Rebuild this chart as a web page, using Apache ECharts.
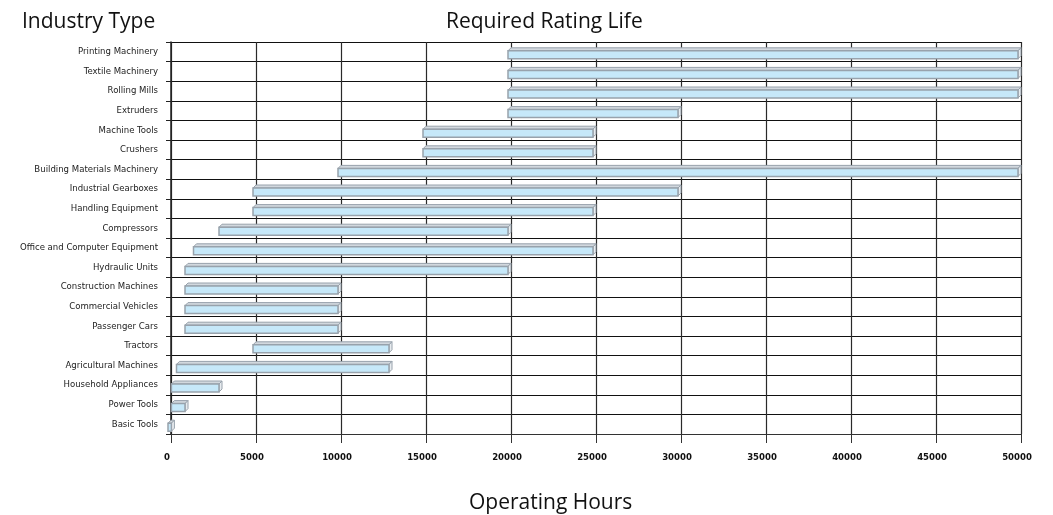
<!DOCTYPE html>
<html>
<head>
<meta charset="utf-8">
<script src="https://cdn.jsdelivr.net/npm/echarts@6/dist/echarts.min.js"></script>
<style>
  html, body { margin: 0; padding: 0; background: #fff; }
  #chart { width: 1053px; height: 515px; }
</style>
</head>
<body>
<div id="chart"></div>
<script>
// Industries, listed from top row to bottom row
const industries = [
  'Printing Machinery', 'Textile Machinery', 'Rolling Mills', 'Extruders',
  'Machine Tools', 'Crushers', 'Building Materials Machinery', 'Industrial Gearboxes',
  'Handling Equipment', 'Compressors', 'Office and Computer Equipment', 'Hydraulic Units',
  'Construction Machines', 'Commercial Vehicles', 'Passenger Cars', 'Tractors',
  'Agricultural Machines', 'Household Appliances', 'Power Tools', 'Basic Tools'
];
// Required rating life range in operating hours
const lifeFrom = [
  20000, 20000, 20000, 20000,
  15000, 15000, 10000, 5000,
  5000, 3000, 1500, 1000,
  1000, 1000, 1000, 5000,
  500, 200, 200, 0
];
const lifeTo = [
  50000, 50000, 50000, 30000,
  25000, 25000, 50000, 30000,
  25000, 20000, 25000, 20000,
  10000, 10000, 10000, 13000,
  13000, 3000, 1000, 200
];
const hourTicks = [0, 5000, 10000, 15000, 20000, 25000, 30000, 35000, 40000, 45000, 50000];

const rangeData = industries.map((name, i) => [i, lifeFrom[i], lifeTo[i]]);

const DEPTH = 3;     // pseudo-3D offset of the floor/back plane
const BAR_H = 8;     // thickness of each range bar
const LABEL_FONT = '"DejaVu Sans Condensed", "DejaVu Sans", sans-serif';
const TITLE_FONT = '"Open Sans", sans-serif';

function renderRange(params, api) {
  const idx = api.value(0);
  const a = api.coord([api.value(1), idx]);
  const b = api.coord([api.value(2), idx]);
  const x0 = a[0] - DEPTH;
  const x1 = Math.max(b[0] - DEPTH, x0 + 1);
  const yTop = a[1] - BAR_H / 2 + DEPTH;
  const yBot = yTop + BAR_H;
  const stroke = '#98a2ac';
  return {
    type: 'group',
    children: [
      { // top face
        type: 'polygon',
        shape: { points: [[x0, yTop], [x0 + DEPTH, yTop - DEPTH], [x1 + DEPTH, yTop - DEPTH], [x1, yTop]] },
        style: { fill: '#d2d8de', stroke: stroke, lineWidth: 1 }
      },
      { // right side face
        type: 'polygon',
        shape: { points: [[x1, yTop], [x1 + DEPTH, yTop - DEPTH], [x1 + DEPTH, yBot - DEPTH], [x1, yBot]] },
        style: { fill: '#e8ecef', stroke: stroke, lineWidth: 1 }
      },
      { // front face
        type: 'rect',
        shape: { x: x0, y: yTop, width: x1 - x0, height: BAR_H },
        style: { fill: '#c6e8f9', stroke: stroke, lineWidth: 1.5 }
      }
    ]
  };
}

const chart = echarts.init(document.getElementById('chart'), null, { renderer: 'canvas' });

chart.setOption({
  backgroundColor: '#ffffff',
  animation: false,
  title: [
    { text: 'Industry Type', left: 17, top: 7,
      textStyle: { fontFamily: TITLE_FONT, fontSize: 21, fontWeight: 'normal', color: '#111' } },
    { text: 'Required Rating Life', left: 441, top: 7,
      textStyle: { fontFamily: TITLE_FONT, fontSize: 21, fontWeight: 'normal', color: '#111' } },
    { text: 'Operating Hours', left: 464, top: 488,
      textStyle: { fontFamily: TITLE_FONT, fontSize: 21, fontWeight: 'normal', color: '#111' } }
  ],
  grid: { left: 171, right: 32, top: 42, bottom: 81 },
  xAxis: {
    type: 'value',
    min: 0, max: 50000, interval: 5000,
    axisLine: { show: true, lineStyle: { color: '#333', width: 1 } },
    axisTick: { show: true, length: 9, lineStyle: { color: '#333' } },
    axisLabel: {
      margin: 19, padding: [0, 8, 0, 0],
      fontFamily: LABEL_FONT, fontSize: 9.5, fontWeight: 'bold', color: '#111',
      formatter: v => hourTicks.includes(v) ? String(v) : ''
    },
    splitLine: { show: true, lineStyle: { color: '#2a2a2a', width: 1.2 } }
  },
  yAxis: {
    type: 'category',
    data: industries,
    inverse: true,
    axisLine: { show: true, lineStyle: { color: '#222', width: 1.5 } },
    axisTick: { show: true, length: 5, lineStyle: { color: '#222' } },
    axisLabel: {
      margin: 13,
      fontFamily: LABEL_FONT, fontSize: 9.5, color: '#222'
    },
    splitLine: { show: true, lineStyle: { color: '#111', width: 1 } }
  },
  series: [{
    type: 'custom',
    renderItem: renderRange,
    encode: { y: 0, x: [1, 2] },
    data: rangeData,
    clip: false
  }]
});
</script>
</body>
</html>
